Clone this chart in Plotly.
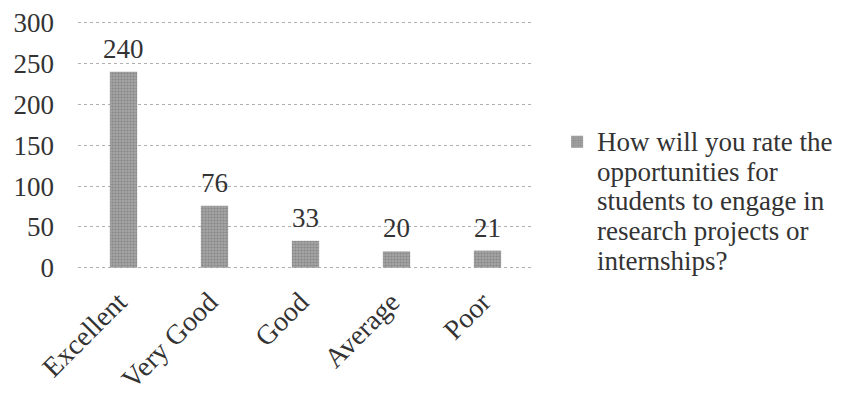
import plotly.graph_objects as go

categories = ["Excellent", "Very Good", "Good", "Average", "Poor"]
values = [240, 76, 33, 20, 21]
y_ticks = [0, 50, 100, 150, 200, 250, 300]
legend_lines = ["How will you rate the", "opportunities for", "students to engage in",
                "research projects or", "internships?"]

FONT = "Liberation Serif"
TXT = "#333333"

series_name = "<br>".join(f"<span style='font-size:27px'>{ln}</span>" for ln in legend_lines)

fig = go.Figure()
fig.add_trace(go.Bar(
    x=categories, y=values, name=series_name,
    marker=dict(color="#8e8e8e", line=dict(width=0),
                pattern=dict(shape=".", fgcolor="#6a6a6a", bgcolor="#a4a4a4", size=3, solidity=0.4)),
    width=0.3,
    showlegend=True,
))
for c, v in zip(categories, values):
    fig.add_annotation(x=c, y=v, text=str(v), showarrow=False, yanchor="bottom",
                       yshift=6, font=dict(family=FONT, size=27, color=TXT))

fig.update_layout(
    width=843, height=396,
    margin=dict(l=70, r=318, t=13, b=135, autoexpand=False),
    paper_bgcolor="white", plot_bgcolor="white",
    font=dict(family=FONT, size=22, color=TXT),
    showlegend=True,
    legend=dict(x=1.053, xanchor="left", y=0.60, yanchor="top", valign="top",
                font=dict(family=FONT, size=23, color=TXT),
                itemwidth=30, bgcolor="rgba(0,0,0,0)"),
    bargap=0.7,
)
fig.update_yaxes(range=[-1.5, 302], tickvals=y_ticks, showgrid=True,
                 gridcolor="#b0b0b0", griddash="dot", gridwidth=1,
                 zeroline=False, showline=False, ticks="",
                 tickfont=dict(family=FONT, size=27, color=TXT),
                 ticklabelstandoff=23, automargin=False)
fig.update_xaxes(tickangle=-45, showline=False, ticks="",
                 tickfont=dict(family=FONT, size=28, color=TXT),
                 ticklabelstandoff=10, ticklabelshift=-5, automargin=False)

fig.write_html("out.html")
